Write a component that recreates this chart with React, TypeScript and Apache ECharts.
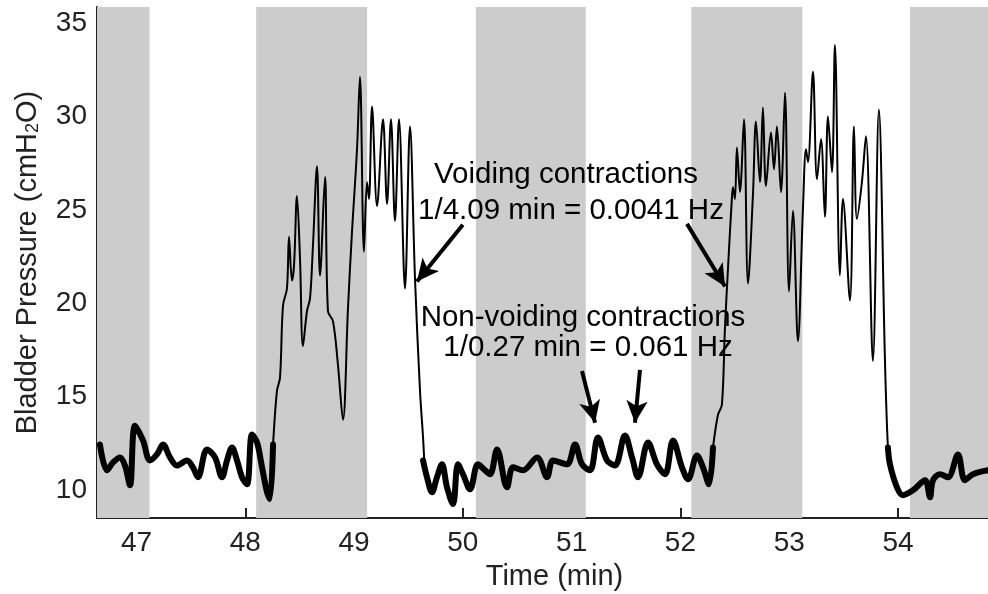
import React, { useEffect, useRef } from "react";
import * as echarts from "echarts";

// Time (min) / bladder pressure (cmH2O), split into segments
const baseA: [number, number][] = [
  [46.664, 12.34], [46.729, 10.96], [46.784, 11.38], [46.848, 11.65], [46.894, 11.22],
  [46.94, 10.16], [46.986, 13.35], [47.06, 12.56], [47.124, 11.49], [47.188, 11.81],
  [47.244, 12.34], [47.308, 11.65], [47.372, 11.22], [47.464, 11.49], [47.519, 11.12],
  [47.565, 10.59], [47.648, 12.08], [47.722, 11.65], [47.786, 10.59], [47.832, 11.49],
  [47.878, 12.18], [47.924, 11.49], [47.97, 10.59], [48.016, 10.21], [48.062, 12.88],
  [48.108, 12.45], [48.154, 11.12], [48.2, 9.79], [48.227, 9.41], [48.255, 12.34],
];
const voidA: [number, number][] = [
  [48.227, 9.41], [48.255, 12.34], [48.291, 15.22], [48.319, 15.91], [48.347, 19.8],
  [48.383, 20.7], [48.402, 23.47], [48.429, 21.13], [48.448, 21.93], [48.475, 25.66],
  [48.503, 22.3], [48.53, 17.61], [48.567, 19.48], [48.595, 20.17], [48.622, 22.99],
  [48.659, 27.25], [48.687, 21.4], [48.733, 26.67], [48.76, 19.48], [48.806, 18.95],
  [48.852, 16.6], [48.898, 13.67], [48.944, 19.64], [48.981, 23.74], [49.027, 28.16],
  [49.054, 32.05], [49.091, 22.67], [49.119, 26.4], [49.137, 25.5], [49.165, 30.45],
  [49.211, 25.12], [49.266, 29.76], [49.303, 25.23], [49.339, 29.76], [49.376, 24.32],
  [49.413, 29.76], [49.468, 20.7], [49.514, 29.38], [49.56, 21.24], [49.606, 15.22],
  [49.634, 12.72], [49.645, 11.49],
];
const baseB: [number, number][] = [
  [49.634, 11.49], [49.67, 10.59], [49.716, 9.79], [49.762, 10.59], [49.808, 11.28],
  [49.854, 10.05], [49.909, 9.15], [49.955, 11.28], [50.001, 10.75], [50.066, 9.95],
  [50.139, 11.28], [50.204, 10.96], [50.25, 10.75], [50.314, 12.08], [50.406, 10.05],
  [50.461, 11.12], [50.553, 10.96], [50.682, 11.65], [50.774, 10.59], [50.829, 11.49],
  [50.957, 11.28], [51.031, 12.34], [51.095, 11.28], [51.169, 10.96], [51.242, 12.72],
  [51.325, 11.49], [51.398, 11.22], [51.49, 12.82], [51.555, 11.65], [51.61, 10.59],
  [51.702, 12.45], [51.784, 11.28], [51.858, 10.75], [51.932, 12.56], [52.014, 11.12],
  [52.07, 10.48], [52.152, 11.76], [52.207, 11.12], [52.262, 10.21], [52.299, 12.18],
];
const voidB: [number, number][] = [
  [52.262, 10.21], [52.299, 12.18], [52.345, 13.94], [52.381, 14.47], [52.409, 18.57],
  [52.437, 21.77], [52.474, 25.66], [52.483, 26.13], [52.501, 25.5], [52.519, 28.26],
  [52.547, 25.87], [52.584, 29.76], [52.621, 20.97], [52.666, 25.66], [52.694, 29.65],
  [52.731, 26.4], [52.758, 30.39], [52.786, 26.19], [52.832, 29.06], [52.86, 27.09],
  [52.887, 29.38], [52.924, 25.87], [52.961, 31.19], [52.998, 20.54], [53.034, 24.86],
  [53.08, 17.88], [53.126, 24.96], [53.154, 28.16], [53.172, 27.47], [53.218, 32.31],
  [53.255, 26.56], [53.292, 28.69], [53.328, 24.54], [53.356, 29.92], [53.393, 26.93],
  [53.42, 33.75], [53.466, 21.4], [53.494, 25.5], [53.558, 20.06], [53.595, 29.38],
  [53.622, 24.43], [53.668, 26.4], [53.705, 28.85], [53.769, 16.82], [53.824, 30.29],
  [53.88, 16.82], [53.907, 12.18], [53.926, 11.28],
];
const baseC: [number, number][] = [
  [53.907, 12.18], [53.926, 11.28], [53.99, 10.05], [54.045, 9.63], [54.137, 9.89],
  [54.248, 10.43], [54.294, 9.52], [54.321, 10.43], [54.386, 10.75], [54.459, 10.59],
  [54.551, 11.81], [54.615, 10.43], [54.689, 10.75], [54.827, 10.96],
];

// Shaded one-minute intervals
const bands: [number, number][] = [
  [46.637, 47.12], [48.1, 49.12], [50.12, 51.13], [52.1, 53.12], [54.11, 54.827],
];

const xTicks = [47, 48, 49, 50, 51, 52, 53, 54];
const yTicks = [10, 15, 20, 25, 30, 35];

// Arrows: [tail, head] in data coordinates
const arrows: [[number, number], [number, number]][] = [
  [[50.0, 24.11], [49.578, 21.08]],
  [[52.06, 24.16], [52.41, 20.81]],
  [[51.095, 16.28], [51.215, 13.51]],
  [[51.628, 16.34], [51.582, 13.51]],
];

const FONT = "'Liberation Sans', Arial, sans-serif";

export default function App() {
  const ref = useRef<HTMLDivElement>(null);
  useEffect(() => {
    if (!ref.current) return;
    const chart = echarts.init(ref.current, undefined, { renderer: "svg" });
    const thick = { color: "#000", width: 6, join: "round", cap: "round" };
    const thin = { color: "#000", width: 2, join: "round", cap: "round" };
    const mk = (data: [number, number][], ls: any, extra: any = {}) => ({
      type: "line",
      data,
      showSymbol: false,
      symbol: "none",
      smooth: 0.35,
      lineStyle: ls,
      z: 3,
      silent: true,
      ...extra,
    });
    const txt = (text: string, x: number, y: number) => ({
      type: "text",
      x,
      y,
      z: 50,
      style: { text, font: `29.5px ${FONT}`, fill: "#000", align: "center", verticalAlign: "middle" },
    });
    chart.setOption({
      animation: false,
      grid: { left: 97, right: 0, top: 7, bottom: 73 },
      xAxis: {
        type: "value",
        min: 46.637,
        max: 54.827,
        name: "Time (min)",
        nameLocation: "middle",
        nameGap: 39,
        nameTextStyle: { fontFamily: FONT, fontSize: 29, color: "#222", padding: [0, 0, 0, 24] },
        axisLine: { show: true, onZero: false, lineStyle: { color: "#222", width: 2 } },
        axisTick: { show: true, inside: true, length: 10, lineStyle: { color: "#222", width: 2 }, customValues: xTicks },
        axisLabel: { margin: 9, fontFamily: FONT, fontSize: 28, color: "#222", customValues: xTicks },
        splitLine: { show: false },
      },
      yAxis: {
        type: "value",
        min: 8.4,
        max: 35.78,
        name: "{a|Bladder Pressure (cmH}{s|2}{a|O)}",
        nameLocation: "middle",
        nameRotate: 90,
        nameGap: 56,
        nameTextStyle: {
          fontFamily: FONT,
          color: "#222",
          rich: {
            a: { fontFamily: FONT, fontSize: 29, color: "#222", lineHeight: 30 },
            s: { fontFamily: FONT, fontSize: 18, color: "#222", lineHeight: 12, verticalAlign: "bottom" },
          },
        },
        axisLine: { show: true, onZero: false, lineStyle: { color: "#222", width: 2 } },
        axisTick: { show: true, inside: true, length: 9, lineStyle: { color: "#222", width: 2 }, customValues: yTicks },
        axisLabel: { margin: 10, fontFamily: FONT, fontSize: 28, color: "#222", customValues: yTicks },
        splitLine: { show: false },
      },
      series: [
        mk(baseA, thick, {
          markArea: {
            silent: true,
            itemStyle: { color: "#cccccc", opacity: 1 },
            data: bands.map(([a, b]) => [{ xAxis: a }, { xAxis: b }]),
          },
        }),
        mk(voidA, thin),
        mk(baseB, thick),
        mk(voidB, thin),
        mk(baseC, thick, {
          markLine: {
            silent: true,
            symbol: ["none", "arrow"],
            symbolSize: [16, 22],
            label: { show: false },
            lineStyle: { color: "#000", width: 4, type: "solid" },
            data: arrows.map(([t, h]) => [{ coord: t }, { coord: h }]),
          },
        }),
      ],
      graphic: [
        txt("Voiding contractions", 566, 172),
        txt("1/4.09 min = 0.0041 Hz", 571, 208),
        txt("Non-voiding contractions", 583, 315),
        txt("1/0.27 min = 0.061 Hz", 588, 345),
      ],
    });
    return () => chart.dispose();
  }, []);
  return <div ref={ref} style={{ position: "fixed", left: 0, top: 0, width: 988, height: 594 }} />;
}
